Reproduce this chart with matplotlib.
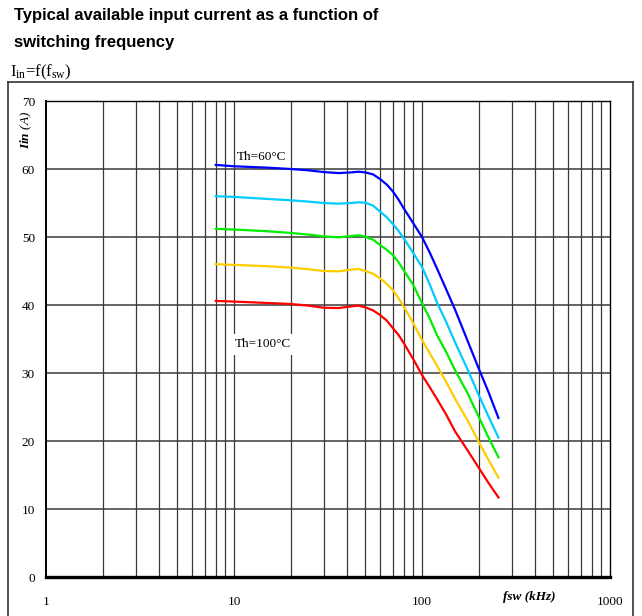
import matplotlib
matplotlib.use("Agg")
import matplotlib.pyplot as plt
from matplotlib.lines import Line2D

plt.rcParams["mathtext.fontset"] = "custom"
plt.rcParams["mathtext.rm"] = "Liberation Serif"
plt.rcParams["mathtext.it"] = "Liberation Serif:italic"
plt.rcParams["mathtext.bf"] = "Liberation Serif:bold:italic"

# Switching frequency (kHz)
fsw = [8, 10, 15, 20, 25, 30, 36, 42, 46, 50, 55, 60, 65, 70, 75, 80, 90,
       100, 110, 120, 135, 150, 175, 200, 225, 255]

# Available input current (A) per heatsink temperature
i_60 = [60.6, 60.4, 60.2, 60.0, 59.8, 59.55, 59.4, 59.5, 59.6, 59.5, 59.2, 58.5, 57.7,
        56.7, 55.5, 54.2, 52.0, 50.0, 47.7, 45.4, 42.2, 39.3, 34.7, 30.7, 27.3, 23.4]
i_70 = [56.0, 55.9, 55.6, 55.4, 55.2, 55.0, 54.9, 55.0, 55.1, 55.05, 54.6, 53.7, 52.9,
        51.9, 50.9, 49.8, 47.6, 45.6, 43.0, 40.4, 37.4, 34.5, 30.5, 26.8, 23.7, 20.5]
i_80 = [51.2, 51.1, 50.85, 50.6, 50.35, 50.1, 49.95, 50.15, 50.25, 50.05, 49.6, 48.8, 48.1,
        47.35, 46.3, 45.1, 42.9, 40.3, 38.0, 35.6, 33.0, 30.4, 27.0, 23.6, 20.6, 17.6]
i_90 = [46.0, 45.9, 45.7, 45.5, 45.25, 45.0, 44.95, 45.2, 45.3, 45.0, 44.6, 43.9, 43.1,
        42.2, 41.0, 39.75, 37.3, 34.85, 32.9, 31.1, 28.6, 26.2, 23.0, 19.9, 17.3, 14.6]
i_100 = [40.6, 40.5, 40.3, 40.15, 39.9, 39.6, 39.55, 39.8, 39.9, 39.65, 39.2, 38.5, 37.7,
         36.6, 35.6, 34.4, 32.0, 29.7, 27.9, 26.2, 23.8, 21.4, 18.6, 16.1, 13.9, 11.7]

series = [i_60, i_70, i_80, i_90, i_100]
colors = ["#0000FF", "#00CCFF", "#00EE00", "#FFCC00", "#FF0000"]

x_ticks = [1, 10, 100, 1000]
x_tick_labels = ["1", "10", "100", "1000"]
y_ticks = [0, 10, 20, 30, 40, 50, 60, 70]

W, H = 642, 616
fig = plt.figure(figsize=(W / 100, H / 100), dpi=100)

def fx(px):
    return px / W

def fy(py):
    return 1 - py / H

# Header
fig.text(fx(14), fy(20), "Typical available input current as a function of",
         family="Liberation Sans", weight="bold", fontsize=12, ha="left", va="baseline")
fig.text(fx(14), fy(47), "switching frequency",
         family="Liberation Sans", weight="bold", fontsize=12, ha="left", va="baseline")
fig.text(fx(10), fy(76), r"$\mathrm{I_{in}}$=f(f$_\mathrm{sw}$)",
         family="Liberation Serif", fontsize=12, ha="left", va="baseline")

# Outer frame
for xs, ys in [((8, 8), (82, 616)), ((8, 633), (82, 82)), ((633, 633), (82, 616))]:
    fig.add_artist(Line2D([fx(v) for v in xs], [fy(v) for v in ys],
                          color="#333333", lw=1.2, transform=fig.transFigure))

ax = fig.add_axes([fx(46), fy(577), fx(610) - fx(46), fy(101) - fy(577)])
ax.set_xscale("log")
ax.set_xlim(1, 1000)
ax.set_ylim(0, 70)

# Decade grid: every integer multiple within each decade
grid_x = [m * 10 ** d for d in range(3) for m in range(1, 10)][1:]
for gx in grid_x:
    ax.axvline(gx, color="#3a3a3a", lw=0.9, zorder=1)
for gy in y_ticks[1:-1]:
    ax.axhline(gy, color="#3a3a3a", lw=1.1, zorder=1)

for vals, c in zip(series, colors):
    ax.plot(fsw, vals, color=c, lw=1.6, zorder=3, solid_joinstyle="round")

ax.text(10.3, 61.8, "Th=60°C", family="Liberation Serif", fontsize=9.5,
        ha="left", va="center", zorder=4)
ax.text(10.1, 34.2, "Th=100°C", family="Liberation Serif", fontsize=9.5,
        ha="left", va="center", zorder=4,
        bbox=dict(facecolor="white", edgecolor="none", pad=3))

ax.set_xticks(x_ticks)
ax.set_xticklabels(x_tick_labels)
ax.xaxis.set_minor_locator(matplotlib.ticker.NullLocator())
ax.set_yticks(y_ticks)
ax.tick_params(axis="both", length=0, labelsize=9.5)
ax.tick_params(axis="x", pad=14)
ax.tick_params(axis="y", pad=8)
for lab in ax.get_xticklabels() + ax.get_yticklabels():
    lab.set_family("Liberation Serif")

for side in ["top", "right"]:
    ax.spines[side].set_color("black")
    ax.spines[side].set_linewidth(1.0)
ax.spines["left"].set_linewidth(1.4)
ax.spines["bottom"].set_linewidth(2.4)

fig.text(fx(26.5), fy(111), r"$\mathbf{Iin}$ (A)", family="Liberation Serif",
         style="italic", fontsize=9.5, rotation=90, ha="center", va="top")
fig.text(fx(503), fy(597), "fsw (kHz)", family="Liberation Serif",
         style="italic", weight="bold", fontsize=9.5, ha="left", va="center")

fig.savefig("out.png", dpi=100)
